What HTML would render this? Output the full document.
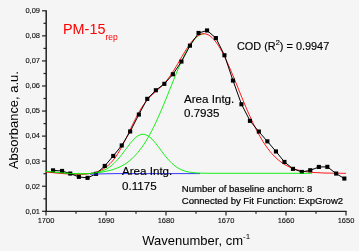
<!DOCTYPE html>
<html><head><meta charset="utf-8"><style>
html,body{margin:0;padding:0;background:#f5f5f5;}
svg{display:block;will-change:transform;font-family:"Liberation Sans",sans-serif;}
</style></head><body>
<svg width="359" height="251" viewBox="0 0 359 251">
<rect width="359" height="251" fill="#f5f5f5"/>
<g stroke="#222" stroke-width="1.2" fill="none">
<line x1="46.2" y1="10.3" x2="46.2" y2="211.9" stroke-width="1.5"/>
<line x1="45.4" y1="211.3" x2="346.6" y2="211.3"/>
<line x1="42" y1="10.80" x2="46" y2="10.80"/><line x1="43.5" y1="23.3" x2="46" y2="23.3"/><line x1="42" y1="35.86" x2="46" y2="35.86"/><line x1="43.5" y1="48.4" x2="46" y2="48.4"/><line x1="42" y1="60.92" x2="46" y2="60.92"/><line x1="43.5" y1="73.5" x2="46" y2="73.5"/><line x1="42" y1="85.98" x2="46" y2="85.98"/><line x1="43.5" y1="98.5" x2="46" y2="98.5"/><line x1="42" y1="111.04" x2="46" y2="111.04"/><line x1="43.5" y1="123.6" x2="46" y2="123.6"/><line x1="42" y1="136.10" x2="46" y2="136.10"/><line x1="43.5" y1="148.6" x2="46" y2="148.6"/><line x1="42" y1="161.16" x2="46" y2="161.16"/><line x1="43.5" y1="173.7" x2="46" y2="173.7"/><line x1="42" y1="186.22" x2="46" y2="186.22"/><line x1="43.5" y1="198.8" x2="46" y2="198.8"/><line x1="42" y1="211.28" x2="46" y2="211.28"/><line x1="46" y1="211.3" x2="46" y2="215.6"/><line x1="76" y1="211.3" x2="76" y2="213.8"/><line x1="106" y1="211.3" x2="106" y2="215.6"/><line x1="136" y1="211.3" x2="136" y2="213.8"/><line x1="166" y1="211.3" x2="166" y2="215.6"/><line x1="196" y1="211.3" x2="196" y2="213.8"/><line x1="226" y1="211.3" x2="226" y2="215.6"/><line x1="256" y1="211.3" x2="256" y2="213.8"/><line x1="286" y1="211.3" x2="286" y2="215.6"/><line x1="316" y1="211.3" x2="316" y2="213.8"/><line x1="346" y1="211.3" x2="346" y2="215.6"/>
</g>
<g font-size="7.5" fill="#111" stroke="#111" stroke-width="0.12"><text x="40" y="13.1" text-anchor="end">0,09</text><text x="40" y="38.2" text-anchor="end">0,08</text><text x="40" y="63.2" text-anchor="end">0,07</text><text x="40" y="88.3" text-anchor="end">0,06</text><text x="40" y="113.3" text-anchor="end">0,05</text><text x="40" y="138.4" text-anchor="end">0,04</text><text x="40" y="163.5" text-anchor="end">0,03</text><text x="40" y="188.5" text-anchor="end">0,02</text><text x="40" y="213.6" text-anchor="end">0,01</text><text x="46" y="223.1" text-anchor="middle">1700</text><text x="106" y="223.1" text-anchor="middle">1690</text><text x="166" y="223.1" text-anchor="middle">1680</text><text x="226" y="223.1" text-anchor="middle">1670</text><text x="286" y="223.1" text-anchor="middle">1660</text><text x="346" y="223.1" text-anchor="middle">1650</text></g>
<polyline points="46.0,171.5 48.0,171.7 50.0,171.9 52.0,172.1 54.0,172.3 56.0,172.5 58.0,172.7 60.0,172.8 62.0,173.0 64.0,173.2 66.0,173.3 68.0,173.4 70.0,173.6 72.0,173.7 74.0,173.7 76.0,173.8 78.0,173.8 80.0,173.8 82.0,173.8 84.0,173.8 86.0,173.7 88.0,173.6 90.0,173.5 92.0,173.3 94.0,173.1 96.0,172.9 98.0,172.7 100.0,172.4 102.0,172.1 104.0,171.7 106.0,171.3 108.0,170.9 110.0,170.4 112.0,169.9 114.0,169.2 116.0,168.5 118.0,167.7 120.0,166.8 122.0,165.8 124.0,164.7 126.0,163.4 128.0,162.0 130.0,160.4 132.0,158.7 134.0,156.7 136.0,154.6 138.0,152.3 140.0,149.8 142.0,147.1 144.0,144.2 146.0,141.0 148.0,137.6 150.0,134.1 152.0,130.3 154.0,126.3 156.0,122.1 158.0,117.7 160.0,113.2 162.0,108.5 164.0,103.8 166.0,98.9 168.0,93.9 170.0,88.9 172.0,84.0 174.0,79.0 176.0,74.1 178.0,69.3 180.0,64.7 182.0,60.3 184.0,56.1 186.0,52.1 188.0,48.5 190.0,45.2 192.0,42.3 194.0,39.7 196.0,37.6 198.0,36.0 200.0,34.8 202.0,34.0 204.0,33.8" fill="none" stroke="#00ee00" stroke-width="0.9"/>
<polyline points="46.0,172.0 48.0,172.2 50.0,172.4 52.0,172.6 54.0,172.8 56.0,173.0 58.0,173.2 60.0,173.3 62.0,173.5 64.0,173.7 66.0,173.8 68.0,174.0 70.0,174.1 72.0,174.2 74.0,174.3 76.0,174.4 78.0,174.4 80.0,174.4 82.0,174.3 84.0,174.2 86.0,174.0 88.0,173.8 90.0,173.5 92.0,173.1 94.0,172.7 96.0,172.1 98.0,171.4 100.0,170.6 102.0,169.7 104.0,168.5 106.0,167.2 108.0,165.6 110.0,163.7 112.0,161.6 114.0,159.1 116.0,156.4 118.0,153.3 120.0,150.0 122.0,146.4 124.0,142.5 126.0,138.5 128.0,134.3 130.0,130.1 132.0,125.9 134.0,121.8 136.0,117.8 138.0,114.0 140.0,110.4 142.0,107.1 144.0,104.2 146.0,101.5 148.0,99.1 150.0,96.9 152.0,94.9 154.0,93.1 156.0,91.3 158.0,89.5 160.0,87.7 162.0,85.8 164.0,83.6 166.0,81.3 168.0,78.8 170.0,76.1 172.0,73.1 174.0,70.0 176.0,66.7 178.0,63.4 180.0,59.9 182.0,56.5 184.0,53.1 186.0,49.8 188.0,46.8 190.0,43.9 192.0,41.3 194.0,39.0 196.0,37.1 198.0,35.6 200.0,34.6 202.0,33.9 204.0,33.7 206.0,34.0 208.0,34.7 210.0,35.9 212.0,37.5 214.0,39.6 216.0,42.1 218.0,44.9 220.0,48.2 222.0,51.7 224.0,55.6 226.0,59.7 228.0,64.1 230.0,68.6 232.0,73.3 234.0,78.1 236.0,83.0 238.0,87.9 240.0,92.9 242.0,97.8 244.0,102.6 246.0,107.4 248.0,112.0 250.0,116.5 252.0,120.9 254.0,125.1 256.0,129.1 258.0,132.9 260.0,136.5 262.0,139.9 264.0,143.1 266.0,146.1 268.0,148.8 270.0,151.4 272.0,153.8 274.0,155.9 276.0,157.9 278.0,159.7 280.0,161.3 282.0,162.8 284.0,164.1 286.0,165.3 288.0,166.3 290.0,167.3 292.0,168.1 294.0,168.8 296.0,169.5 298.0,170.0 300.0,170.5 302.0,170.9 304.0,171.3 306.0,171.6 308.0,171.9 310.0,172.1 312.0,172.3 314.0,172.5 316.0,172.6 318.0,172.7 320.0,172.8 322.0,172.9 324.0,173.0 326.0,173.1 328.0,173.1 330.0,173.1 332.0,173.2 334.0,173.2 336.0,173.2 338.0,173.2 340.0,173.2 342.0,173.3 344.0,173.3 346.0,173.3" fill="none" stroke="#ff0000" stroke-width="0.9"/>
<polyline points="53.0,170.4 62.0,171.0 70.3,173.6 78.8,176.9 87.6,177.9 96.1,173.9 104.7,166.0 113.2,156.0 121.7,145.5 130.2,131.5 138.8,114.6 147.3,98.8 155.8,90.3 164.4,83.8 172.9,74.3 181.5,61.5 190.0,45.6 198.6,33.0 207.1,30.5 215.9,38.0 224.5,55.3 233.0,80.6 241.5,104.3 250.0,120.8 258.8,131.6 267.4,141.4 276.0,151.5 284.5,162.0 293.0,168.8 301.8,172.0 310.3,170.3 318.9,167.0 327.4,166.8 336.1,173.6 344.4,178.6" fill="none" stroke="#000" stroke-width="1"/>
<g fill="#000"><rect x="51.0" y="168.3" width="4.1" height="4.1"/><rect x="60.0" y="168.9" width="4.1" height="4.1"/><rect x="68.2" y="171.5" width="4.1" height="4.1"/><rect x="76.8" y="174.8" width="4.1" height="4.1"/><rect x="85.5" y="175.8" width="4.1" height="4.1"/><rect x="94.0" y="171.8" width="4.1" height="4.1"/><rect x="102.7" y="163.9" width="4.1" height="4.1"/><rect x="111.2" y="153.9" width="4.1" height="4.1"/><rect x="119.7" y="143.4" width="4.1" height="4.1"/><rect x="128.1" y="129.4" width="4.1" height="4.1"/><rect x="136.8" y="112.5" width="4.1" height="4.1"/><rect x="145.2" y="96.8" width="4.1" height="4.1"/><rect x="153.8" y="88.2" width="4.1" height="4.1"/><rect x="162.3" y="81.8" width="4.1" height="4.1"/><rect x="170.8" y="72.2" width="4.1" height="4.1"/><rect x="179.4" y="59.5" width="4.1" height="4.1"/><rect x="187.9" y="43.6" width="4.1" height="4.1"/><rect x="196.5" y="30.9" width="4.1" height="4.1"/><rect x="205.0" y="28.4" width="4.1" height="4.1"/><rect x="213.8" y="36.0" width="4.1" height="4.1"/><rect x="222.4" y="53.2" width="4.1" height="4.1"/><rect x="230.9" y="78.5" width="4.1" height="4.1"/><rect x="239.4" y="102.2" width="4.1" height="4.1"/><rect x="247.9" y="118.8" width="4.1" height="4.1"/><rect x="256.8" y="129.5" width="4.1" height="4.1"/><rect x="265.3" y="139.3" width="4.1" height="4.1"/><rect x="273.9" y="149.4" width="4.1" height="4.1"/><rect x="282.4" y="159.9" width="4.1" height="4.1"/><rect x="290.9" y="166.8" width="4.1" height="4.1"/><rect x="299.8" y="169.9" width="4.1" height="4.1"/><rect x="308.2" y="168.2" width="4.1" height="4.1"/><rect x="316.8" y="164.9" width="4.1" height="4.1"/><rect x="325.3" y="164.8" width="4.1" height="4.1"/><rect x="334.1" y="171.5" width="4.1" height="4.1"/><rect x="342.3" y="176.5" width="4.1" height="4.1"/></g>
<polyline points="90.0,174.2 92.0,174.2 94.0,174.1 96.0,174.1 98.0,174.0 100.0,173.9 102.0,173.9 104.0,173.8 106.0,173.8 108.0,173.7 110.0,173.7 112.0,173.7 114.0,173.6 116.0,173.6 118.0,173.6 120.0,173.6 122.0,173.6 124.0,173.6 126.0,173.6 128.0,173.6 130.0,173.6 132.0,173.6 134.0,173.6 136.0,173.6 138.0,173.6 140.0,173.6 142.0,173.6 144.0,173.6 146.0,173.6 148.0,173.6 150.0,173.6 152.0,173.6 154.0,173.6 156.0,173.6 158.0,173.6 160.0,173.6 162.0,173.6 164.0,173.6 166.0,173.6 168.0,173.6 170.0,173.6 172.0,173.6 174.0,173.6 176.0,173.6 178.0,173.6 180.0,173.6 182.0,173.6 184.0,173.6 186.0,173.6 188.0,173.6 190.0,173.6 192.0,173.6 194.0,173.6 196.0,173.6 198.0,173.6 200.0,173.6" fill="none" stroke="#2222ff" stroke-width="0.9"/>
<polyline points="46.0,171.1 48.0,171.4 50.0,171.6 52.0,171.8 54.0,172.0 56.0,172.2 58.0,172.4 60.0,172.6 62.0,172.8 64.0,173.0 66.0,173.2 68.0,173.3 70.0,173.5 72.0,173.6 74.0,173.7 76.0,173.8 78.0,173.8 80.0,173.9 82.0,173.9 84.0,173.8 86.0,173.7 88.0,173.6 90.0,173.5 92.0,173.3 94.0,173.0 96.0,172.7 98.0,172.2 100.0,171.7 102.0,171.0 104.0,170.2 106.0,169.3 108.0,168.1 110.0,166.8 112.0,165.2 114.0,163.4 116.0,161.4 118.0,159.2 120.0,156.8 122.0,154.3 124.0,151.6 126.0,148.9 128.0,146.3 130.0,143.7 132.0,141.3 134.0,139.1 136.0,137.3 138.0,135.8 140.0,134.8 142.0,134.3 144.0,134.3 146.0,134.9 148.0,135.8 150.0,137.3 152.0,139.1 154.0,141.3 156.0,143.7 158.0,146.3 160.0,149.0 162.0,151.7 164.0,154.3 166.0,156.9 168.0,159.2 170.0,161.4 172.0,163.4 174.0,165.2 176.0,166.7 178.0,168.0 180.0,169.1 182.0,170.0 184.0,170.8 186.0,171.4 188.0,171.9 190.0,172.2 192.0,172.5 194.0,172.7 196.0,172.9 198.0,173.0 200.0,173.1 202.0,173.2 204.0,173.2 206.0,173.2 208.0,173.3 210.0,173.3 212.0,173.3 214.0,173.3 216.0,173.3 218.0,173.3 220.0,173.3 222.0,173.3 224.0,173.3 226.0,173.3 228.0,173.3 230.0,173.3 232.0,173.3 234.0,173.3 236.0,173.3 238.0,173.3 240.0,173.3 242.0,173.3 244.0,173.3 246.0,173.3 248.0,173.3 250.0,173.3 252.0,173.3 254.0,173.3 256.0,173.3 258.0,173.3 260.0,173.3 262.0,173.3 264.0,173.3 266.0,173.3 268.0,173.3 270.0,173.3 272.0,173.3 274.0,173.3 276.0,173.3 278.0,173.3 280.0,173.3 282.0,173.3 284.0,173.3 286.0,173.3 288.0,173.3 290.0,173.3 292.0,173.3 294.0,173.3 296.0,173.3 298.0,173.3 300.0,173.3 302.0,173.3 304.0,173.3 306.0,173.3 308.0,173.3 310.0,173.3 312.0,173.3" fill="none" stroke="#00ee00" stroke-width="0.9"/>
<text x="63" y="34.2" font-size="14.4" fill="#ff0000">PM-15<tspan font-size="8.5" dy="5.5">rep</tspan></text>
<text x="237" y="49.6" font-size="10.9" fill="#000" stroke="#000" stroke-width="0.15">COD (R<tspan font-size="7.4" dy="-4.7">2</tspan><tspan dy="4.7">) = 0.9947</tspan></text>
<text x="184" y="102.5" font-size="11.6" fill="#000" stroke="#000" stroke-width="0.15">Area Intg.</text>
<text x="184" y="116.8" font-size="11.6" fill="#000" stroke="#000" stroke-width="0.15">0.7935</text>
<text x="122" y="175.3" font-size="11.6" fill="#000" stroke="#000" stroke-width="0.15">Area Intg.</text>
<text x="122" y="189.8" font-size="11.6" fill="#000" stroke="#000" stroke-width="0.15">0.1175</text>
<text x="181.8" y="191.8" font-size="9.55" fill="#000" stroke="#000" stroke-width="0.2">Number of baseline anchorn: 8</text>
<text x="181.8" y="204.3" font-size="9.55" fill="#000" stroke="#000" stroke-width="0.2">Connected by Fit Function: ExpGrow2</text>
<text x="142.3" y="244.6" font-size="13" fill="#000">Wavenumber, cm<tspan font-size="8" dy="-6.1">-1</tspan></text>
<text transform="translate(18,120.1) rotate(-90)" text-anchor="middle" font-size="12.95" fill="#000">Absorbance, a.u.</text>
</svg>
</body></html>
